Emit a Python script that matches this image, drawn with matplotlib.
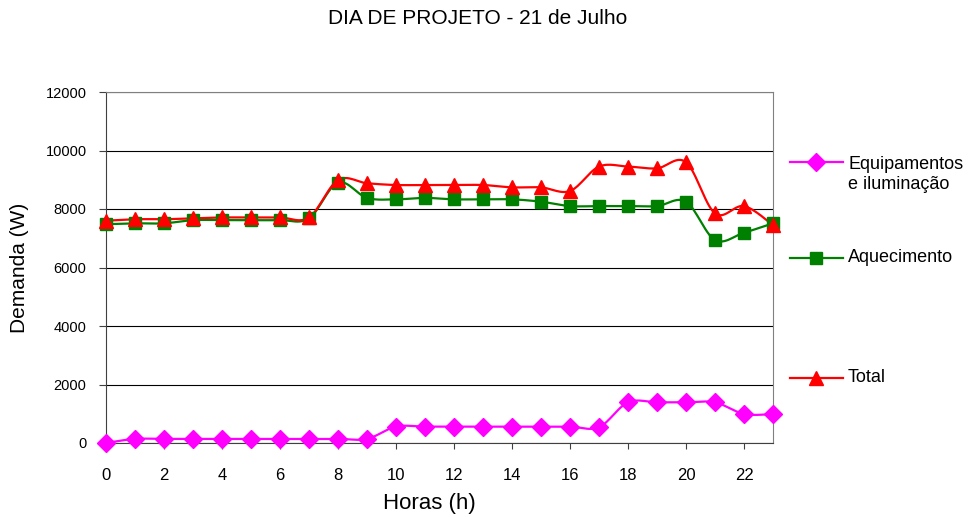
import numpy as np
import matplotlib.pyplot as plt
from matplotlib.lines import Line2D

plt.rcParams["font.family"] = ["Liberation Sans", "DejaVu Sans"]

horas = list(range(24))
equipamentos = [0, 140, 140, 140, 140, 140, 140, 140, 140, 140,
                560, 560, 560, 560, 560, 560, 560, 540,
                1390, 1390, 1390, 1390, 990, 990]
aquecimento = [7480, 7510, 7510, 7620, 7620, 7620, 7620, 7680, 8900, 8380,
               8330, 8380, 8330, 8330, 8330, 8250, 8100, 8100,
               8100, 8100, 8250, 6940, 7190, 7510]
total = [7600, 7650, 7650, 7680, 7710, 7710, 7710, 7710, 8990, 8880,
         8820, 8820, 8820, 8820, 8740, 8740, 8615, 9450,
         9450, 9390, 9600, 7850, 8100, 7450]
series_nomes = ["Equipamentos\ne iluminação", "Aquecimento", "Total"]


def smooth(x, y, n=16):
    # bezier smoothing between consecutive points (like spreadsheet "smoothed line")
    x = np.asarray(x, float)
    y = np.asarray(y, float)
    px = np.concatenate([[x[0]], x, [x[-1]]])
    py = np.concatenate([[y[0]], y, [y[-1]]])
    t = np.linspace(0, 1, n)[:, None]
    xs, ys = [], []
    for i in range(1, len(px) - 2):
        p0 = np.array([px[i], py[i]])
        p3 = np.array([px[i + 1], py[i + 1]])
        p1 = p0 + (np.array([px[i + 1], py[i + 1]]) - np.array([px[i - 1], py[i - 1]])) / 6
        p2 = p3 - (np.array([px[i + 2], py[i + 2]]) - np.array([px[i], py[i]])) / 6
        b = ((1 - t) ** 3) * p0 + 3 * ((1 - t) ** 2) * t * p1 + 3 * (1 - t) * t ** 2 * p2 + t ** 3 * p3
        xs.append(b[:, 0])
        ys.append(b[:, 1])
    return np.concatenate(xs), np.concatenate(ys)


fig = plt.figure(figsize=(9.74, 5.17), dpi=100)
ax = fig.add_axes([106 / 974, 1 - 443 / 517, 667 / 974, 351 / 517])

estilos = [
    ("#FF00FF", "D", 9),
    ("#008000", "s", 8.5),
    ("#FF0000", "^", 10),
]
for valores, (cor, marc, ms) in zip([equipamentos, aquecimento, total], estilos):
    sx, sy = smooth(horas, valores)
    ax.plot(sx, sy, color=cor, lw=1.6, zorder=3)
    ax.plot(horas, valores, ls="none", marker=marc, ms=ms, color=cor,
            markeredgecolor=cor, zorder=4, clip_on=False)

ax.set_xlim(0, 23)
ax.set_ylim(0, 12000)
ax.set_xticks(range(0, 23, 2))
ax.set_yticks(range(0, 12001, 2000))
ax.yaxis.grid(True, color="black", lw=0.8)
ax.set_axisbelow(True)
for lado in ["top", "right"]:
    ax.spines[lado].set_color("#808080")
for lado in ["left", "bottom"]:
    ax.spines[lado].set_color("#404040")
ax.tick_params(axis="y", direction="out", length=5, color="#404040",
               labelsize=10.5, pad=9)
ax.tick_params(axis="x", direction="out", length=4, color="#404040",
               labelsize=12, pad=14)

ax.set_xlabel("Horas (h)", fontsize=16)
ax.set_ylabel("Demanda (W)", fontsize=15)
ax.xaxis.set_label_coords((429 - 106) / 667, (443 - 503) / 351)
ax.xaxis.label.set_va("center")
ax.yaxis.set_label_coords((20 - 106) / 667, 0.5)
ax.yaxis.label.set_va("center")
fig.text(478 / 974, 1 - 19 / 517, "DIA DE PROJETO - 21 de Julho",
         ha="center", va="center", fontsize=15)

# legend drawn to the right of the plot
leg_y = [162, 258, 378]
for nome, (cor, marc, ms), yp in zip(series_nomes, estilos, leg_y):
    yf = 1 - yp / 517
    fig.add_artist(Line2D([790 / 974, 843 / 974], [yf, yf], color=cor, lw=1.6))
    fig.add_artist(Line2D([816 / 974], [yf], marker=marc, ms=ms, color=cor,
                          markeredgecolor=cor))
    fig.text(848 / 974, yf + (0.0 if "\n" not in nome else -0.024), nome,
             ha="left", va="center", fontsize=13, linespacing=1.25)

fig.savefig("out.png", dpi=100)
